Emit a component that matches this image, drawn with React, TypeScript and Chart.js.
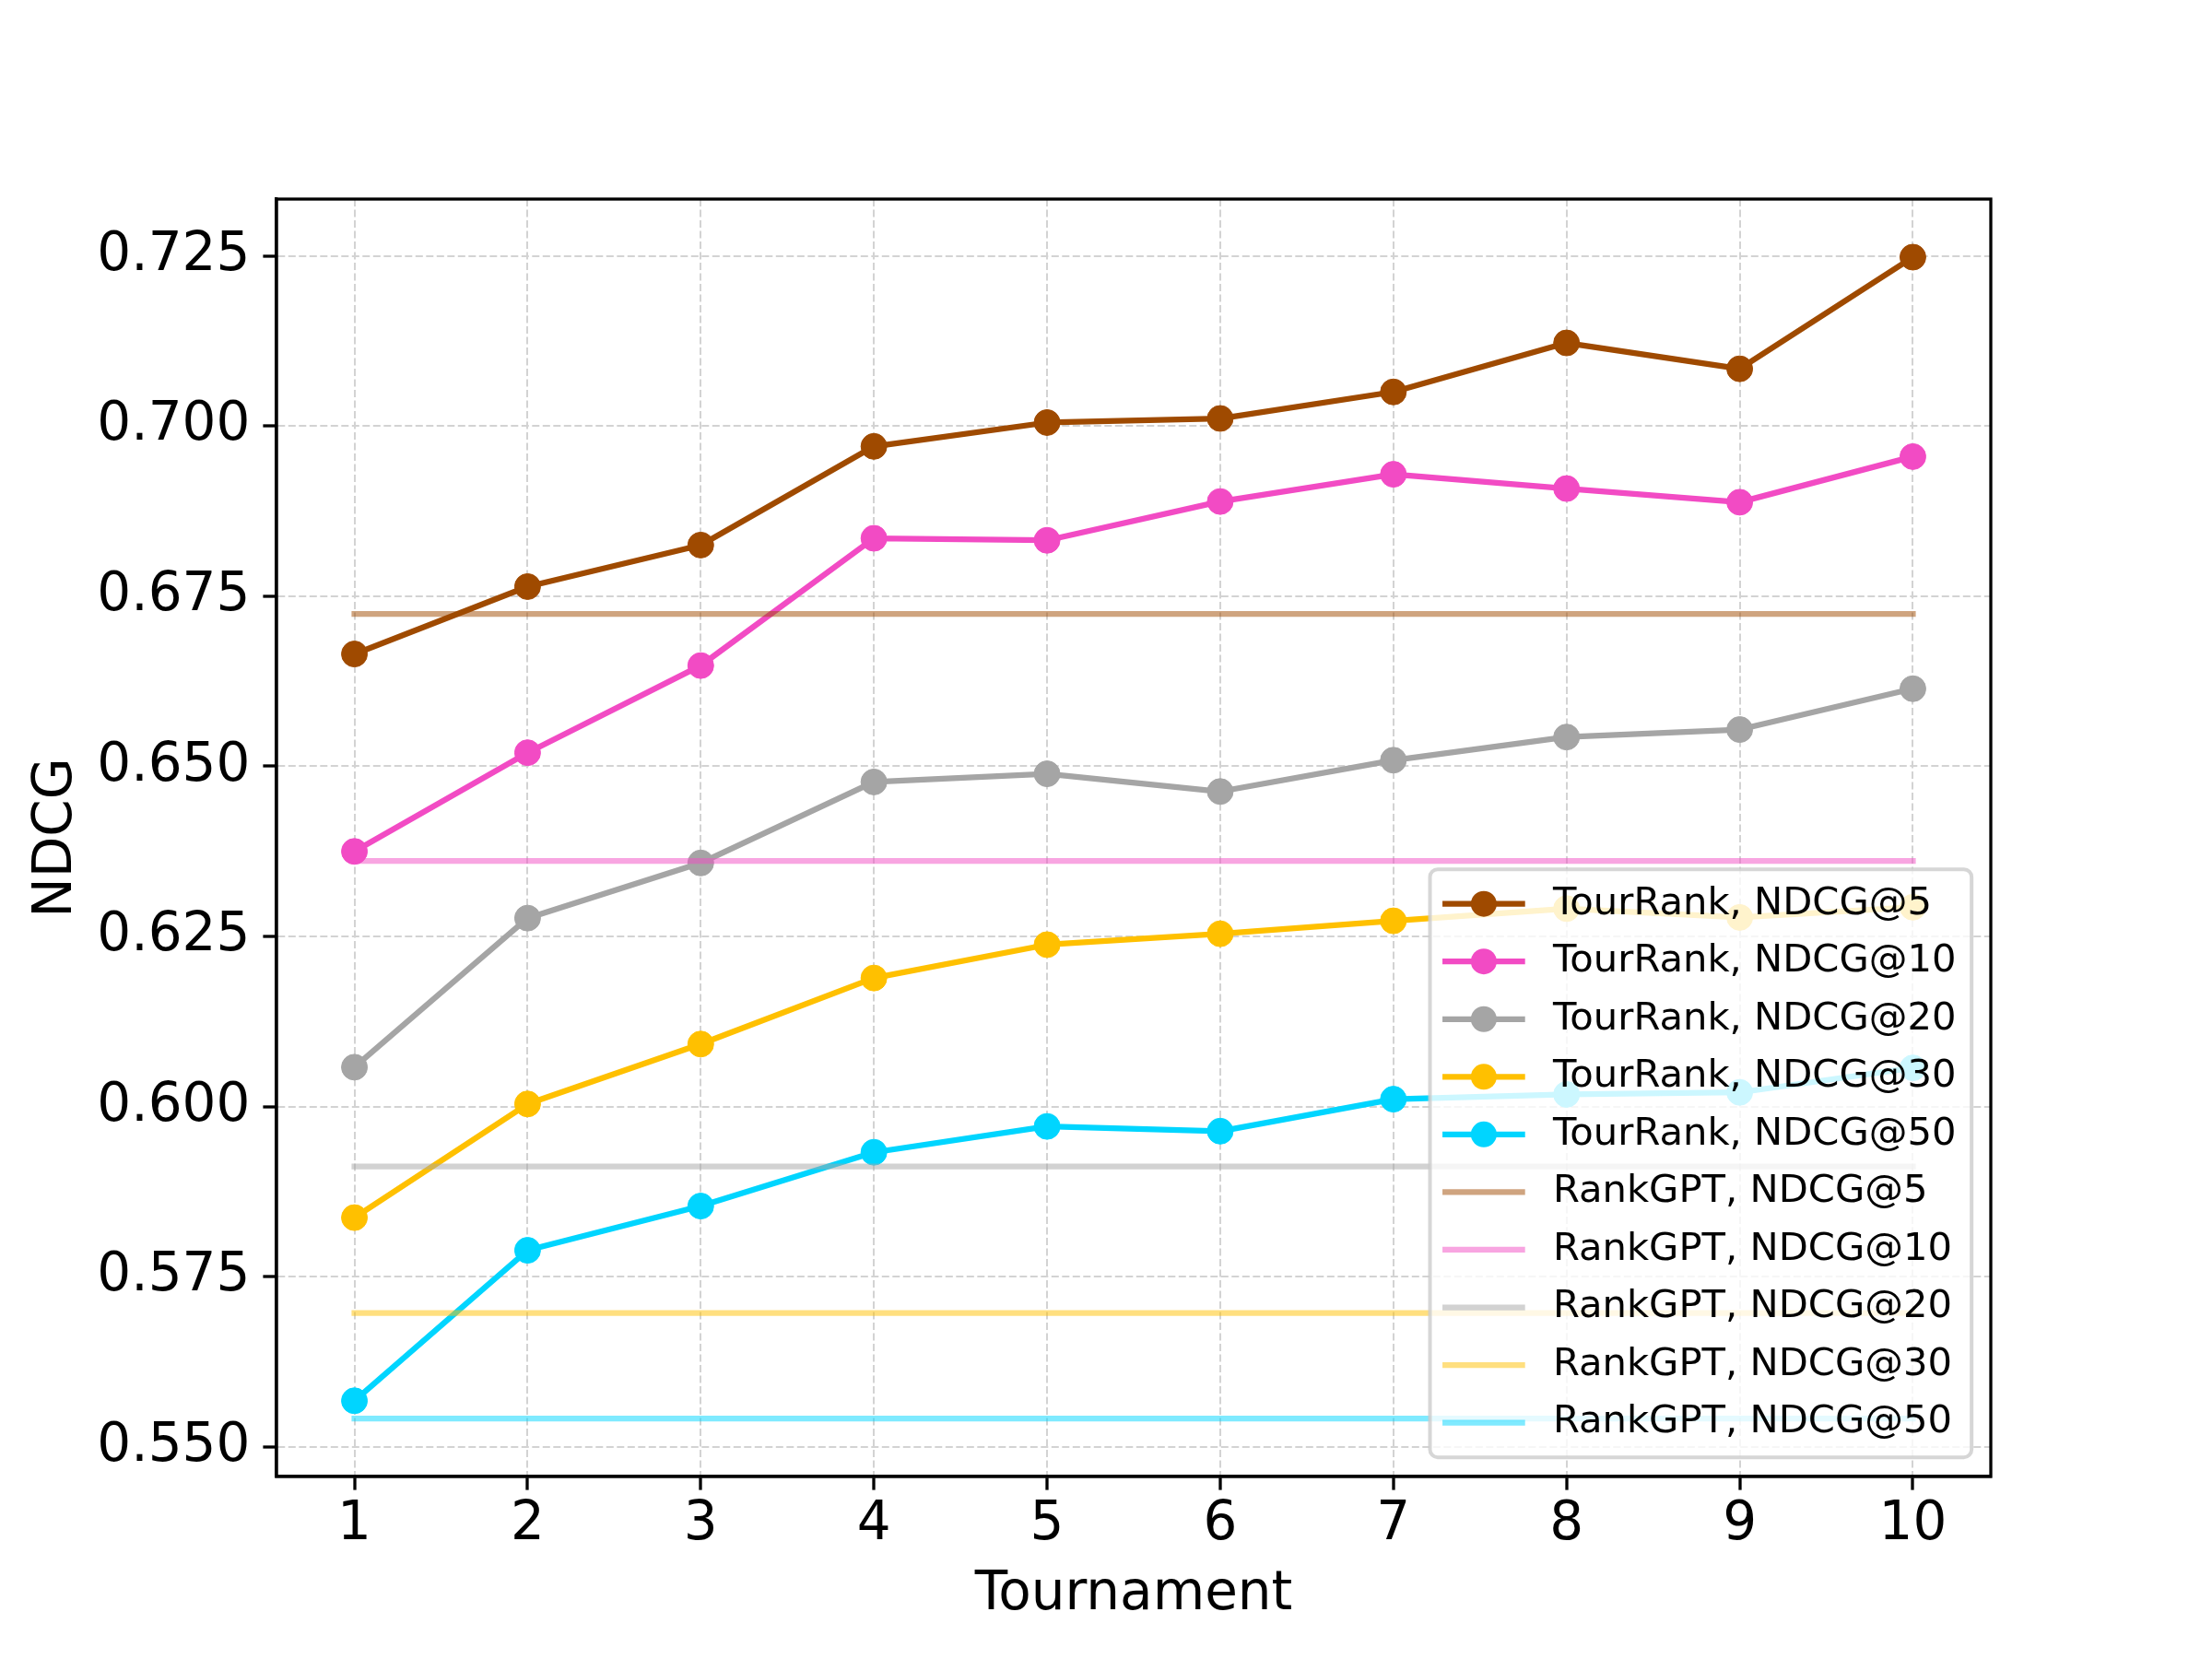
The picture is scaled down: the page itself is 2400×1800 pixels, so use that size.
import { useEffect, useRef } from 'react';
import { Chart, registerables } from 'chart.js';
import type { Plugin } from 'chart.js';

Chart.register(...registerables);

// x values (tournament rounds) and tick labels
const tournaments = [1, 2, 3, 4, 5, 6, 7, 8, 9, 10];
const yTicks = [0.55, 0.575, 0.6, 0.625, 0.65, 0.675, 0.7, 0.725];

// TourRank NDCG per tournament count
const tourRankLabels = [
   'TourRank, NDCG@5',
   'TourRank, NDCG@10',
   'TourRank, NDCG@20',
   'TourRank, NDCG@30',
   'TourRank, NDCG@50',
];
const tourRank5 = [0.6665, 0.6764, 0.6825, 0.697, 0.7005, 0.7011, 0.705, 0.7122, 0.7084, 0.7248];
const tourRank10 = [0.6375, 0.652, 0.6648, 0.6835, 0.6832, 0.6889, 0.6929, 0.6908, 0.6888, 0.6955];
const tourRank20 = [0.6058, 0.6277, 0.6358, 0.6477, 0.6489, 0.6463, 0.6509, 0.6543, 0.6554, 0.6614];
const tourRank30 = [0.5837, 0.6004, 0.6092, 0.6189, 0.6238, 0.6254, 0.6273, 0.6291, 0.6278, 0.6293];
const tourRank50 = [0.5568, 0.5789, 0.5854, 0.5933, 0.5971, 0.5964, 0.6011, 0.6018, 0.6021, 0.6057];

// RankGPT baselines (flat)
const rankGptLabels = [
   'RankGPT, NDCG@5',
   'RankGPT, NDCG@10',
   'RankGPT, NDCG@20',
   'RankGPT, NDCG@30',
   'RankGPT, NDCG@50',
];
const rankGptScores = [0.6724, 0.6361, 0.5912, 0.5697, 0.5542];

const colors = ['#9f4a00', '#f24bc4', '#a5a5a5', '#ffc000', '#00d5ff'];
const faded = [
   'rgba(159, 74, 0, 0.5)',
   'rgba(242, 75, 196, 0.5)',
   'rgba(165, 165, 165, 0.5)',
   'rgba(255, 192, 0, 0.5)',
   'rgba(0, 213, 255, 0.5)',
];

const FONT = '"DejaVu Sans", sans-serif';
const AXIS_FONT = 58;
const LEGEND_FONT = 41.7;
const LINE_W = 6.25;

// matplotlib-style 5% margins
function margins(values: number[]) {
   const lo = Math.min(...values);
   const hi = Math.max(...values);
   const m = (hi - lo) * 0.05;
   return { min: lo - m, max: hi + m };
}

const frame: Plugin<'line'> = {
   id: 'frame',
   afterDatasetsDraw(chart) {
      const { ctx, chartArea: a } = chart;
      ctx.save();
      ctx.strokeStyle = '#000';
      ctx.lineWidth = 3.3;
      ctx.strokeRect(a.left, a.top, a.right - a.left, a.bottom - a.top);
      ctx.restore();
   },
};

const boxLegend: Plugin<'line'> = {
   id: 'boxLegend',
   afterDraw(chart) {
      const { ctx, chartArea } = chart;
      const fs = LEGEND_FONT;
      const pad = 0.4 * fs;
      const axPad = 0.5 * fs;
      const handleLen = 2 * fs;
      const textPad = 0.8 * fs;
      const spacing = 0.5 * fs;
      const rowH = fs;

      ctx.save();
      ctx.font = `${fs}px ${FONT}`;
      const items = chart.data.datasets.map((d: any) => ({
         label: d.label as string,
         color: d.borderColor as string,
         width: d.borderWidth as number,
         radius: d.pointRadius as number,
      }));
      const textW = Math.max(...items.map((i) => ctx.measureText(i.label).width));
      const w = pad * 2 + handleLen + textPad + textW;
      const h = pad * 2 + items.length * rowH + (items.length - 1) * spacing;
      const x = chartArea.right - axPad - w;
      const y = chartArea.bottom - axPad - h;

      ctx.beginPath();
      ctx.roundRect(x, y, w, h, 0.2 * fs);
      ctx.fillStyle = 'rgba(255, 255, 255, 0.8)';
      ctx.fill();
      ctx.lineWidth = 4;
      ctx.strokeStyle = 'rgba(204, 204, 204, 0.8)';
      ctx.stroke();

      items.forEach((it, i) => {
         const cy = y + pad + rowH / 2 + i * (rowH + spacing);
         const hx = x + pad;
         ctx.strokeStyle = it.color;
         ctx.lineWidth = it.width;
         ctx.lineCap = 'square';
         ctx.beginPath();
         ctx.moveTo(hx, cy);
         ctx.lineTo(hx + handleLen, cy);
         ctx.stroke();
         if (it.radius > 0) {
            ctx.fillStyle = it.color;
            ctx.beginPath();
            ctx.arc(hx + handleLen / 2, cy, it.radius, 0, Math.PI * 2);
            ctx.fill();
         }
         ctx.fillStyle = '#000';
         ctx.textAlign = 'left';
         ctx.textBaseline = 'middle';
         ctx.fillText(it.label, hx + handleLen + textPad, cy);
      });
      ctx.restore();
   },
};

export default function App() {
   const canvasRef = useRef<HTMLCanvasElement>(null);
   const chartRef = useRef<Chart | null>(null);

   useEffect(() => {
      document.body.style.margin = '0';
      if (!canvasRef.current) return;
      if (chartRef.current) chartRef.current.destroy();

      const tourSeries = [tourRank5, tourRank10, tourRank20, tourRank30, tourRank50];
      const total = tourSeries.length + rankGptScores.length;

      const tourSets = tourSeries.map((vals, i) => ({
         label: tourRankLabels[i],
         data: tournaments.map((t, j) => ({ x: t, y: vals[j] })),
         borderColor: colors[i],
         backgroundColor: colors[i],
         borderWidth: LINE_W,
         pointRadius: 14,
         pointBorderWidth: 1,
         pointBorderColor: colors[i],
         pointBackgroundColor: colors[i],
         borderCapStyle: 'square' as const,
         borderJoinStyle: 'round' as const,
         order: total - i,
      }));
      const gptSets = rankGptScores.map((v, i) => ({
         label: rankGptLabels[i],
         data: tournaments.map((t) => ({ x: t, y: v })),
         borderColor: faded[i],
         backgroundColor: faded[i],
         borderWidth: LINE_W,
         pointRadius: 0,
         pointHoverRadius: 0,
         borderCapStyle: 'square' as const,
         order: total - tourSeries.length - i,
      }));

      const yRange = margins([...tourSeries.flat(), ...rankGptScores]);
      const xRange = margins(tournaments);

      Chart.defaults.font.family = FONT;
      Chart.defaults.color = '#000';

      chartRef.current = new Chart(canvasRef.current, {
         type: 'line',
         data: { datasets: [...tourSets, ...gptSets] },
         options: {
            responsive: false,
            devicePixelRatio: 1,
            animation: false,
            layout: { padding: { top: 216, right: 240, left: 0, bottom: 0 } },
            plugins: {
               legend: { display: false },
               tooltip: { enabled: false },
            },
            scales: {
               x: {
                  type: 'linear',
                  min: xRange.min,
                  max: xRange.max,
                  afterBuildTicks: (scale) => {
                     scale.ticks = tournaments.map((v) => ({ value: v }));
                  },
                  afterFit: (scale) => {
                     scale.height = 198;
                  },
                  ticks: {
                     font: { size: AXIS_FONT },
                     color: '#000',
                     padding: 4,
                     maxRotation: 0,
                     callback: (v) => String(v),
                  },
                  grid: {
                     color: '#d3d3d3',
                     lineWidth: 2,
                     tickColor: '#000',
                     tickWidth: 3.3,
                     tickLength: 14.6,
                  },
                  border: { display: true, color: '#000', width: 3.3, dash: [8, 3.5] },
                  title: {
                     display: true,
                     text: 'Tournament',
                     font: { size: AXIS_FONT },
                     color: '#000',
                     padding: { top: 0, bottom: 34 },
                  },
               },
               y: {
                  type: 'linear',
                  min: yRange.min,
                  max: yRange.max,
                  afterBuildTicks: (scale) => {
                     scale.ticks = yTicks.map((v) => ({ value: v }));
                  },
                  afterFit: (scale) => {
                     scale.width = 300;
                     scale.paddingTop = 0;
                     scale.paddingBottom = 0;
                  },
                  ticks: {
                     font: { size: AXIS_FONT },
                     color: '#000',
                     padding: 14,
                     callback: (v) => Number(v).toFixed(3),
                  },
                  grid: {
                     color: '#d3d3d3',
                     lineWidth: 2,
                     tickColor: '#000',
                     tickWidth: 3.3,
                     tickLength: 14.6,
                  },
                  border: { display: true, color: '#000', width: 3.3, dash: [8, 3.5] },
                  title: {
                     display: true,
                     text: 'NDCG',
                     font: { size: AXIS_FONT },
                     color: '#000',
                     padding: { top: 27, bottom: 0 },
                  },
               },
            },
         },
         plugins: [frame, boxLegend],
      });

      return () => {
         if (chartRef.current) {
            chartRef.current.destroy();
            chartRef.current = null;
         }
      };
   }, []);

   return (
      <div style={{ width: 2400, height: 1800, background: '#fff' }}>
         <canvas ref={canvasRef} width={2400} height={1800} style={{ width: 2400, height: 1800 }} />
      </div>
   );
}
